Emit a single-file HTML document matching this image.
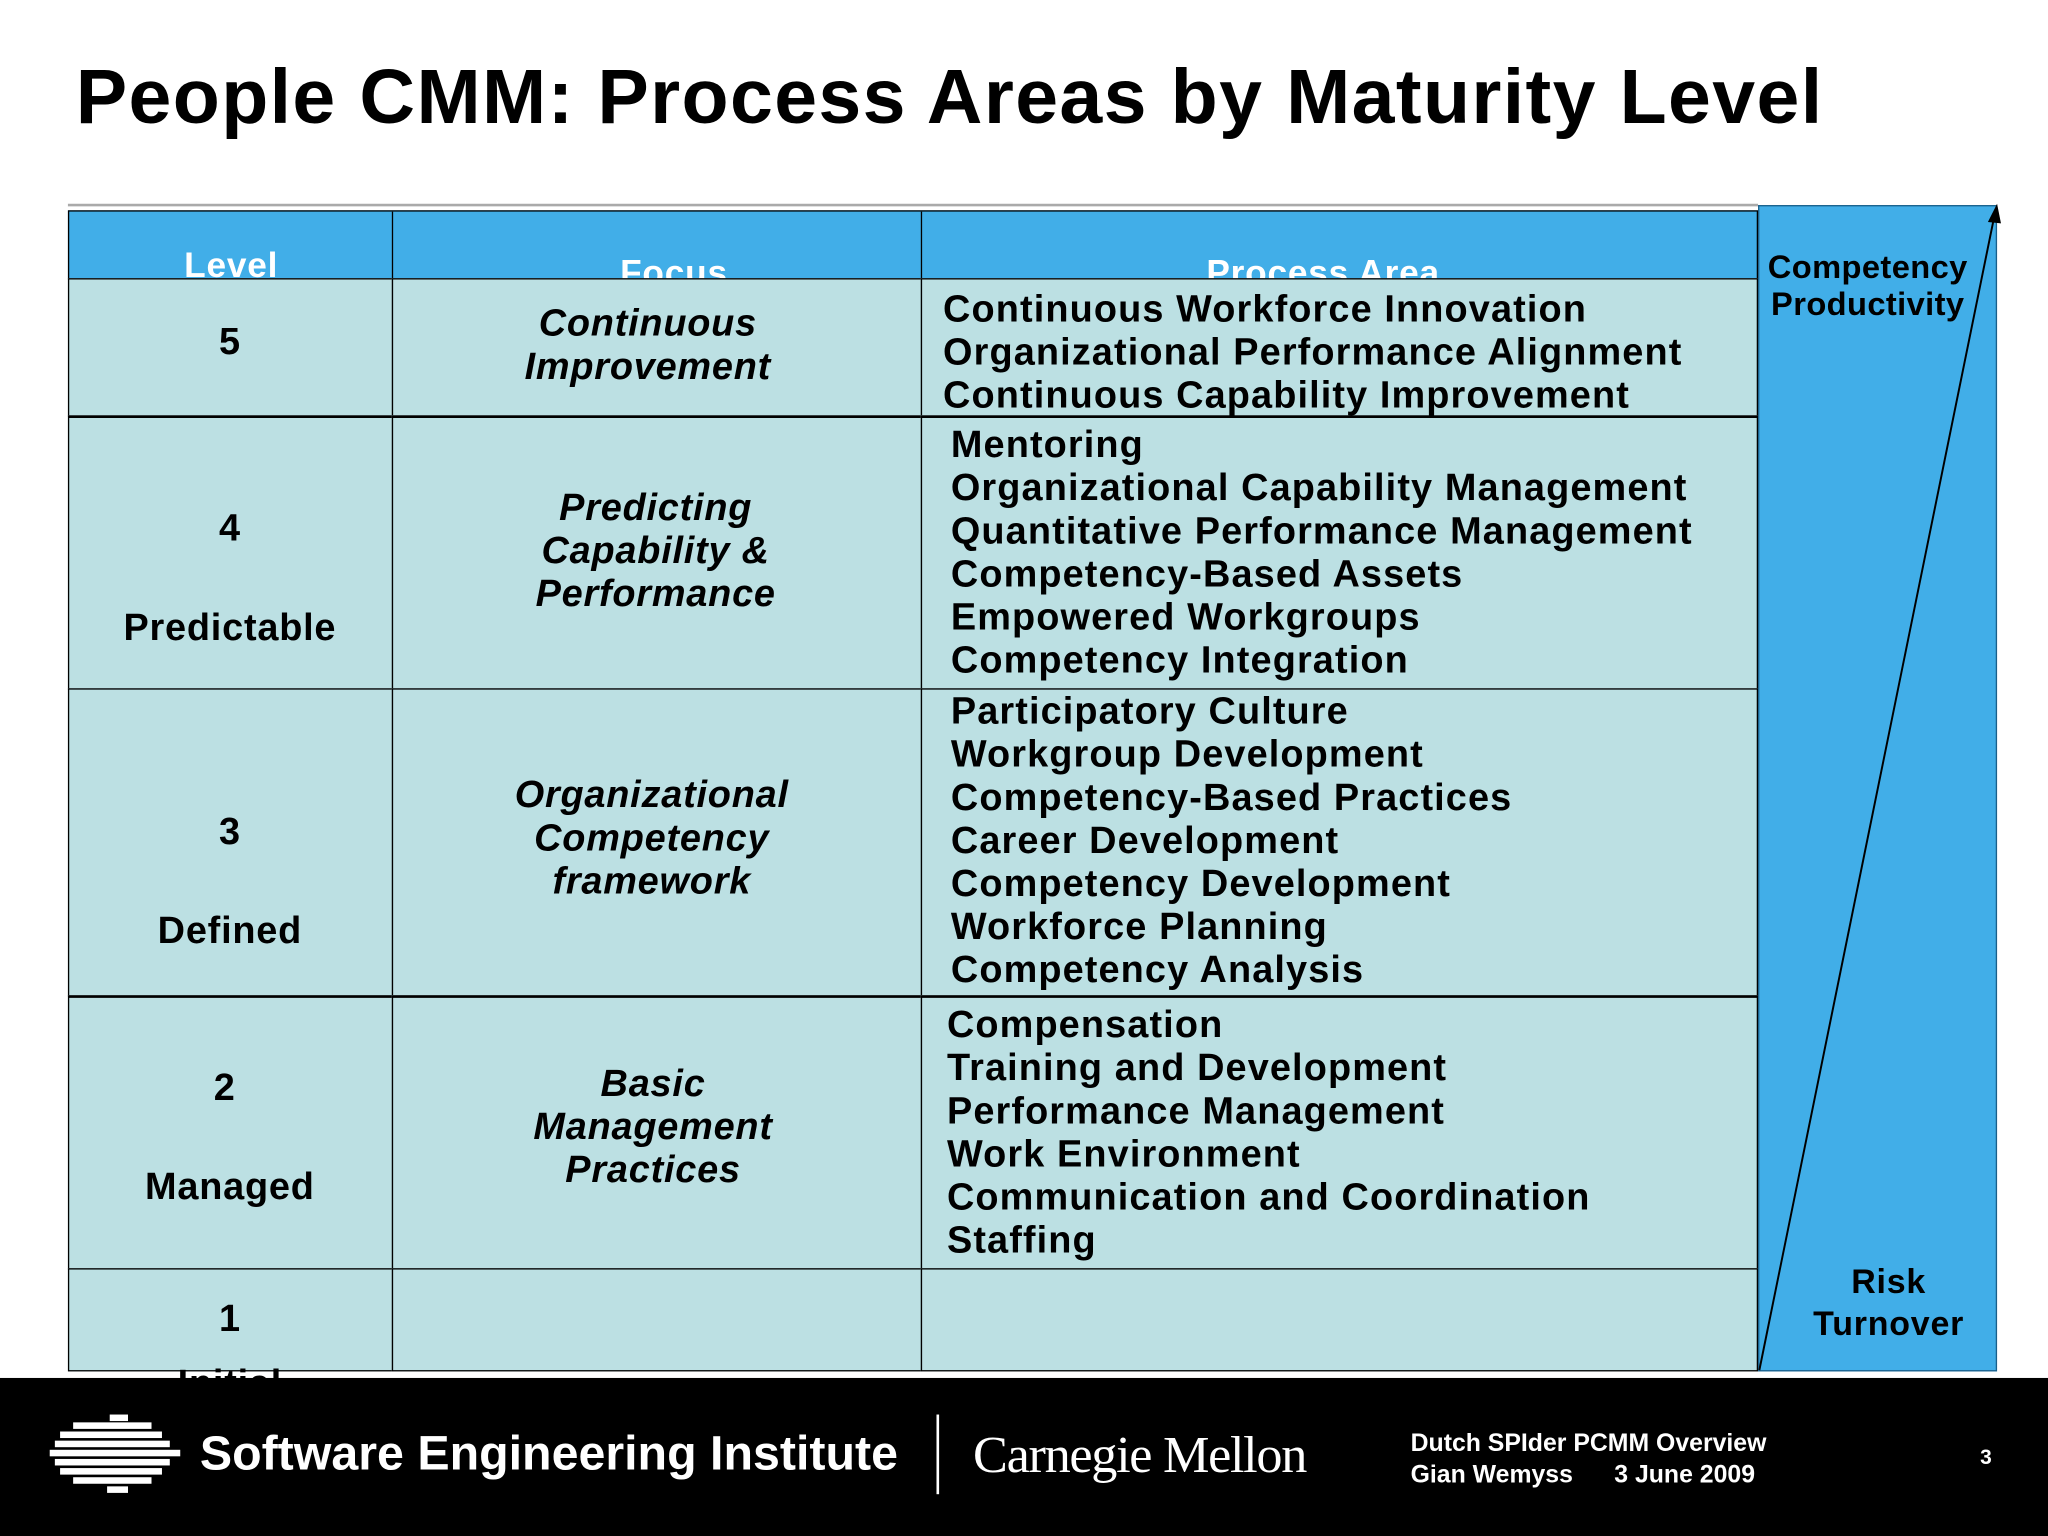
<!DOCTYPE html>
<html><head><meta charset="utf-8"><style>
html,body{margin:0;padding:0;width:2048px;height:1536px;overflow:hidden;background:#fff}
#s{position:absolute;left:0;top:0;width:1568px;height:1176px;transform:scale(1.306122);transform-origin:0 0;font-family:"Liberation Sans",Arial,sans-serif;font-weight:bold;color:#000}
.a{position:absolute}
.t{position:absolute;font-size:29px;line-height:33px;white-space:nowrap;letter-spacing:0.6px}
.c{text-align:center;transform:translateX(-50%)}
.i{font-style:italic}
.p{letter-spacing:0.85px}
.cell{position:absolute;background:#bce0e3;border:1px solid #000;box-sizing:border-box}
</style></head><body>
<div id="s">
<div class="a" style="left:58px;top:40px;font-size:59px;line-height:68px;white-space:nowrap;letter-spacing:1.05px">People CMM: Process Areas by Maturity Level</div>
<div class="a" style="left:52px;top:156px;width:1294px;height:2px;background:#aaa"></div>

<div class="a" style="left:52px;top:161px;width:1294px;height:53px;background:#41aee8;border:1px solid #000;box-sizing:border-box;overflow:hidden">
 <div class="a" style="left:247px;top:0;width:1px;height:53px;background:#000"></div>
 <div class="a" style="left:652px;top:0;width:1px;height:53px;background:#000"></div>
 <div class="t c" style="left:124px;top:25px;color:#fff;font-size:27px">Level</div>
 <div class="t c" style="left:463px;top:31px;color:#fff;font-size:27px">Focus</div>
 <div class="t c" style="left:960px;top:31px;color:#fff;font-size:27px">Process Area</div>
</div>

<div class="cell" style="left:52px;top:213px;width:249px;height:106px"></div>
<div class="cell" style="left:300px;top:213px;width:406px;height:106px"></div>
<div class="cell" style="left:705px;top:213px;width:641px;height:106px"></div>
<div class="cell" style="left:52px;top:318px;width:249px;height:210px;border-top-width:2px"></div>
<div class="cell" style="left:300px;top:318px;width:406px;height:210px;border-top-width:2px"></div>
<div class="cell" style="left:705px;top:318px;width:641px;height:210px;border-top-width:2px"></div>
<div class="cell" style="left:52px;top:527px;width:249px;height:236px"></div>
<div class="cell" style="left:300px;top:527px;width:406px;height:236px"></div>
<div class="cell" style="left:705px;top:527px;width:641px;height:236px"></div>
<div class="cell" style="left:52px;top:762px;width:249px;height:210px;border-top-width:2px"></div>
<div class="cell" style="left:300px;top:762px;width:406px;height:210px;border-top-width:2px"></div>
<div class="cell" style="left:705px;top:762px;width:641px;height:210px;border-top-width:2px"></div>
<div class="cell" style="left:52px;top:971px;width:249px;height:79px"></div>
<div class="cell" style="left:300px;top:971px;width:406px;height:79px"></div>
<div class="cell" style="left:705px;top:971px;width:641px;height:79px"></div>

<div class="t c" style="left:176px;top:246px">5</div>
<div class="t c" style="left:176px;top:389px">4</div>
<div class="t c" style="left:176px;top:465px">Predictable</div>
<div class="t c" style="left:176px;top:621px">3</div>
<div class="t c" style="left:176px;top:697px">Defined</div>
<div class="t c" style="left:172px;top:817px">2</div>
<div class="t c" style="left:176px;top:893px">Managed</div>
<div class="t c" style="left:176px;top:994px">1</div>
<div class="t c" style="left:176px;top:1044px">Initial</div>

<div class="t c i" style="left:496px;top:232px;text-align:center">Continuous<br>Improvement</div>
<div class="t c i" style="left:502px;top:373px;text-align:center">Predicting<br>Capability &amp;<br>Performance</div>
<div class="t c i" style="left:499px;top:593px;text-align:center">Organizational<br>Competency<br>framework</div>
<div class="t c i" style="left:500px;top:814px;text-align:center">Basic<br>Management<br>Practices</div>

<div class="t p" style="left:722px;top:221px">Continuous Workforce Innovation<br>Organizational Performance Alignment<br>Continuous Capability Improvement</div>
<div class="t p" style="left:728px;top:325px">Mentoring<br>Organizational Capability Management<br>Quantitative Performance Management<br>Competency-Based Assets<br>Empowered Workgroups<br>Competency Integration</div>
<div class="t p" style="left:728px;top:529px">Participatory Culture<br>Workgroup Development<br>Competency-Based Practices<br>Career Development<br>Competency Development<br>Workforce Planning<br>Competency Analysis</div>
<div class="t p" style="left:725px;top:769px">Compensation<br>Training and Development<br>Performance Management<br>Work Environment<br>Communication and Coordination<br>Staffing</div>

<div class="a" style="left:1346px;top:157px;width:183px;height:893px;background:#41aee8;border:1px solid #1a5f8a;box-sizing:border-box"></div>
<svg class="a" style="left:0;top:0" width="1568" height="1176">
 <line x1="1347" y1="1049" x2="1527" y2="165" stroke="#000" stroke-width="1.5"/>
 <polygon points="1529,156 1522,170 1532,171" fill="#000"/>
</svg>
<div class="t c" style="left:1430px;top:191px;font-size:25px;line-height:28px;text-align:center;letter-spacing:0.3px">Competency<br>Productivity</div>
<div class="t c" style="left:1446px;top:965px;font-size:26px;line-height:32px;text-align:center">Risk<br>Turnover</div>

<div class="a" style="left:0;top:1055px;width:1568px;height:121px;background:#000"></div>
<svg class="a" style="left:38px;top:1083px" width="102" height="62">
 <g fill="#fff">
 <rect x="46" y="0" width="14" height="5"/><rect x="18" y="6" width="60" height="5"/><rect x="8" y="13" width="78" height="5"/>
 <rect x="4" y="20" width="88" height="5"/><rect x="0" y="27" width="100" height="5"/><rect x="4" y="34" width="88" height="5"/>
 <rect x="8" y="41" width="78" height="5"/><rect x="18" y="48" width="60" height="5"/><rect x="44" y="55" width="16" height="5"/>
 </g>
</svg>
<div class="a" style="left:153px;top:1092px;font-size:37px;line-height:42px;color:#fff;white-space:nowrap;letter-spacing:0px">Software Engineering Institute</div>
<div class="a" style="left:717px;top:1083px;width:2px;height:61px;background:#fff"></div>
<div class="a" style="left:745px;top:1092px;font-family:'Liberation Serif',serif;font-weight:normal;font-size:40px;line-height:44px;color:#fff;white-space:nowrap;letter-spacing:-1px">Carnegie Mellon</div>
<div class="a" style="left:1080px;top:1094px;font-size:19px;line-height:24px;color:#fff;white-space:nowrap">Dutch SPIder PCMM Overview<br>Gian Wemyss&nbsp;&nbsp;&nbsp;&nbsp;&nbsp; 3 June 2009</div>
<div class="a" style="left:1516px;top:1108px;font-size:16px;color:#fff">3</div>
</div>
</body></html>
